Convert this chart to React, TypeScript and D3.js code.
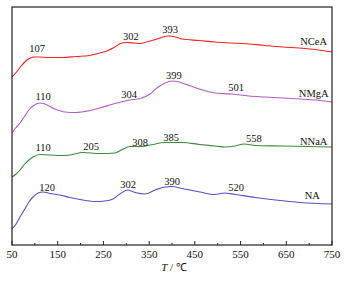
import React from "react";
import * as d3 from "d3";

const W = 364;
const H = 281;
const margin = { left: 12, top: 7, right: 32, bottom: 36 };

const xTicks = [50, 150, 250, 350, 450, 550, 650, 750];
const xMinor = [100, 200, 300, 400, 500, 600, 700];

// NCeA (red)
const nceaT = [50, 60, 70, 80, 90, 100, 110, 130, 160, 190, 220, 242, 260, 275, 290, 302, 318, 330, 348, 367, 380, 393, 408, 422, 459, 494, 531, 568, 603, 641, 678, 713, 750];
const nceaV = [168, 173, 179, 184, 187, 188, 188, 187.5, 187.5, 188.5, 189.5, 192, 194.5, 198, 202, 202.5, 202, 201.5, 203.5, 206, 208, 209, 208, 206, 204.5, 203, 202, 201, 199.5, 198, 197, 195.5, 193];

// NMgA (purple)
const nmgaT = [50, 58, 67.5, 78, 87, 96, 111, 122, 144, 166, 188, 221, 242, 275, 308, 330, 352, 367, 385, 400, 412, 422, 459, 494, 531, 568, 603, 641, 678, 713, 750];
const nmgaV = [112, 117, 122, 129, 135, 139, 142, 141, 136, 133, 132.5, 134.5, 137, 141.5, 145, 146.5, 151, 157, 162, 164, 163.5, 162, 156, 152, 151, 149, 148, 147, 146, 145, 143];

// NNaA (green)
const nnaaT = [50, 59, 67.5, 78, 87, 96, 111, 133, 155, 177, 205, 242, 275, 289, 308, 330, 352, 385, 422, 461, 494, 516, 538, 558, 582, 641, 700, 750];
const nnaaV = [68, 71, 75, 81, 85, 88, 90.5, 90, 89.5, 90, 92.5, 91.5, 92, 95, 98.5, 98.5, 100, 102.5, 102.5, 100.5, 99, 98, 99, 101, 99.5, 99, 98.5, 98];

// NA (blue)
const naT = [50, 59, 67.5, 78, 87, 96, 107, 118, 133, 155, 177, 199, 232, 253, 271, 286, 302, 319, 341, 363, 385, 400, 422, 461, 494, 514, 538, 582, 626, 680, 750];
const naV = [16, 21, 28, 36, 43, 48, 52, 53, 51.5, 50, 47.5, 45.5, 43.5, 44, 46, 51, 55, 52.5, 51, 55, 58, 58.5, 56.5, 53, 50.5, 52, 50.5, 47.5, 45, 42.5, 41];

const seriesNames = ["NCeA", "NMgA", "NNaA", "NA"];
const seriesColors = ["#ff2020", "#b45cc8", "#3a8c3a", "#5a50cc"];
const seriesT = [nceaT, nmgaT, nnaaT, naT];
const seriesV = [nceaV, nmgaV, nnaaV, naV];
const nameT = [710, 710, 710, 707];
const nameV = [204, 152, 104, 50];

// peak annotations: text, T position, intensity position
const peakText = ["107", "302", "393", "110", "304", "399", "501", "110", "205", "308", "385", "558", "120", "302", "390", "520"];
const peakT = [105, 310, 396, 118, 306, 404, 540, 118, 223, 330, 398, 579, 127, 304, 400, 540];
const peakV = [197, 209, 216, 149, 151, 170, 158, 98, 99, 103, 108, 107, 58, 61, 64, 58];

export default function App() {
  const x = d3.scaleLinear().domain([50, 750]).range([margin.left, W - margin.right]);
  const y = d3.scaleLinear().domain([0, 238]).range([H - margin.bottom, margin.top]);
  const line = d3
    .line<[number, number]>()
    .x((d) => x(d[0]))
    .y((d) => y(d[1]))
    .curve(d3.curveMonotoneX);

  const x0 = margin.left;
  const x1 = W - margin.right;
  const y0 = margin.top;
  const y1 = H - margin.bottom;
  const font = '"Liberation Serif", "Times New Roman", Times, serif';

  return (
    <svg
      width={W}
      height={H}
      style={{ position: "absolute", left: 0, top: 0, background: "#fff", fontFamily: font }}
    >
      {seriesNames.map((name, i) => {
        const pts: [number, number][] = seriesT[i].map((t, j) => [t, seriesV[i][j]]);
        return (
          <path key={name} d={line(pts) || ""} fill="none" stroke={seriesColors[i]} strokeWidth={1.1} />
        );
      })}
      {seriesNames.map((name, i) => (
        <text key={"n" + name} x={x(nameT[i])} y={y(nameV[i]) + 3.6} fontSize={10.5} textAnchor="middle" fill="#111" style={{ fontFamily: font }}>
          {name}
        </text>
      ))}
      {peakText.map((t, i) => (
        <text key={"p" + i} x={x(peakT[i])} y={y(peakV[i]) + 3.6} fontSize={10.5} textAnchor="middle" fill="#111" style={{ fontFamily: font }}>
          {t}
        </text>
      ))}
      <rect x={x0} y={y0} width={x1 - x0} height={y1 - y0} fill="none" stroke="#222" strokeWidth={1.2} />
      {xTicks.map((t) => (
        <g key={"t" + t}>
          <line x1={x(t)} x2={x(t)} y1={y1} y2={y1 - 4} stroke="#222" strokeWidth={1} />
          <text x={x(t)} y={y1 + 13} fontSize={11} textAnchor="middle" fill="#111" style={{ fontFamily: font }}>
            {t}
          </text>
        </g>
      ))}
      {xMinor.map((t) => (
        <line key={"m" + t} x1={x(t)} x2={x(t)} y1={y1} y2={y1 - 2} stroke="#222" strokeWidth={1} />
      ))}
      <text x={(x0 + x1) / 2 + 2} y={y1 + 26} fontSize={11} textAnchor="middle" fill="#111" style={{ fontFamily: font }}>
        <tspan fontStyle="italic">T</tspan>
        <tspan> / ℃</tspan>
      </text>
    </svg>
  );
}
